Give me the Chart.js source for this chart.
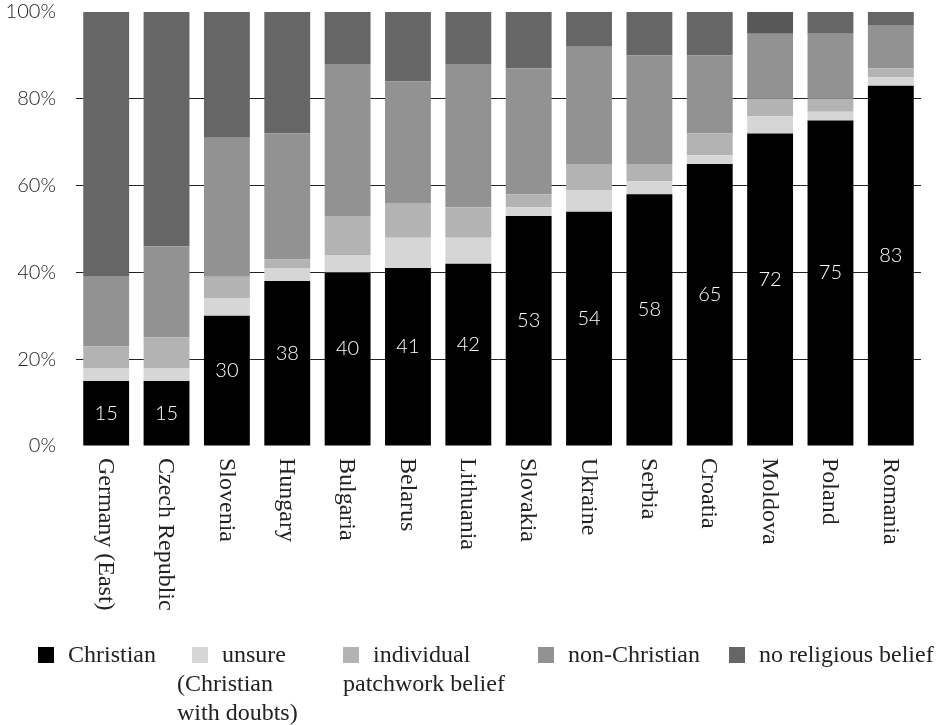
<!DOCTYPE html>
<html>
<head>
<meta charset="utf-8">
<script src="https://cdn.jsdelivr.net/npm/chart.js@4.4.1/dist/chart.umd.min.js"></script>
<style>
  body { margin: 0; background: #fff; }
  #wrap { position: relative; width: 943px; height: 725px; }
  #chart { position: absolute; left: 0; top: 0; }
  .leg {
    position: absolute; display: inline-block; text-align: left;
    font-family: "Liberation Serif", serif; font-size: 24px; line-height: 29px;
    color: #222; white-space: nowrap;
  }
  .leg .box { display: inline-block; width: 16px; height: 16px; margin-right: 14px; vertical-align: -1px; }
</style>
</head>
<body>
<div id="wrap">
  <canvas id="chart" width="943" height="725"></canvas>
</div>
<script>
// Religious self-identification by country, share of respondents (%)
var countries = ['Germany (East)', 'Czech Republic', 'Slovenia', 'Hungary', 'Bulgaria', 'Belarus', 'Lithuania',
                 'Slovakia', 'Ukraine', 'Serbia', 'Croatia', 'Moldova', 'Poland', 'Romania'];
var christian    = [15, 15, 30, 38, 40, 41, 42, 53, 54, 58, 65, 72, 75, 83];
var unsure       = [3, 3, 4, 3, 4, 7, 6, 2, 5, 3, 2, 4, 2, 2];
var patchwork    = [5, 7, 5, 2, 9, 8, 7, 3, 6, 4, 5, 4, 3, 2];
var nonChristian = [16, 21, 32, 29, 35, 28, 33, 29, 27, 25, 18, 15, 15, 10];
var noBelief     = [61, 54, 29, 28, 12, 16, 12, 13, 8, 10, 10, 5, 5, 3];
var yTicks = [0, 20, 40, 60, 80, 100];

var seriesNames = ['Christian', 'unsure (Christian with doubts)', 'individual patchwork belief', 'non-Christian', 'no religious belief'];
// how the legend entries wrap in the original
var legendLines = [['Christian'], ['unsure', '(Christian', 'with doubts)'], ['individual', 'patchwork belief'], ['non-Christian'], ['no religious belief']];
var legendLeft = [38, 177, 343, 538, 729];
var legendIndent = [0, 15, 0, 0, 0];
var colors = ['#000000', '#d6d6d6', '#b3b3b3', '#929292', '#666666'];

var serif = '"Liberation Serif", serif';
var sans = 'Lato, sans-serif';

// numbers inside the black bars
var barLabels = {
  id: 'barLabels',
  afterDatasetsDraw: function(chart) {
    var ctx = chart.ctx;
    var meta = chart.getDatasetMeta(0);
    ctx.save();
    ctx.fillStyle = '#fff';
    ctx.font = '300 20px ' + sans;
    ctx.textAlign = 'center';
    ctx.textBaseline = 'middle';
    meta.data.forEach(function(bar, i) {
      var h = bar.base - bar.y;
      var y = (bar.y + bar.base) / 2 - (h > 100 ? 10 : 0);
      ctx.fillText(String(christian[i]), bar.x, y);
    });
    ctx.restore();
  }
};

// category labels, rotated to read top-down
var xLabels = {
  id: 'xLabels',
  afterDraw: function(chart) {
    var ctx = chart.ctx;
    var xs = chart.scales.x;
    ctx.save();
    ctx.fillStyle = '#222';
    ctx.font = '24px ' + serif;
    ctx.textAlign = 'left';
    ctx.textBaseline = 'middle';
    countries.forEach(function(c, i) {
      ctx.save();
      ctx.translate(xs.getPixelForValue(i) - 1, chart.chartArea.bottom + 12);
      ctx.rotate(Math.PI / 2);
      ctx.fillText(c, 0, 0);
      ctx.restore();
    });
    ctx.restore();
  }
};

var values = [christian, unsure, patchwork, nonChristian, noBelief];
var datasets = values.map(function(v, k) {
  return {
    label: seriesNames[k],
    data: v,
    backgroundColor: k === 4 ? countries.map(function(c) { return c === 'Moldova' ? '#585858' : colors[4]; }) : colors[k],
    borderWidth: 0,
    barPercentage: 0.76,
    categoryPercentage: 1
  };
});

var ctx = document.getElementById('chart').getContext('2d');
new Chart(ctx, {
  type: 'bar',
  data: { labels: countries, datasets: datasets },
  options: {
    responsive: false,
    animation: false,
    layout: { padding: { top: 12, right: 22, bottom: 279, left: 0 } },
    scales: {
      x: {
        display: false,
        stacked: true
      },
      y: {
        stacked: true,
        min: 0,
        max: 100,
        afterFit: function(s) { s.width = 76; s.paddingTop = 0; s.paddingBottom = 0; },
        afterBuildTicks: function(s) { s.ticks = yTicks.map(function(v) { return { value: v }; }); },
        border: { display: false },
        grid: {
          drawTicks: false,
          color: function(c) { return (c.tick.value === 0 || c.tick.value === 100) ? 'rgba(0,0,0,0)' : '#222'; }
        },
        ticks: {
          padding: 20,
          color: '#222',
          font: { family: sans, size: 20, weight: 300 },
          callback: function(v) { return v + '%'; }
        }
      }
    },
    plugins: {
      legend: { display: false },
      tooltip: { enabled: false }
    }
  },
  plugins: [barLabels, xLabels]
});

// legend under the chart
var wrap = document.getElementById('wrap');
legendLines.forEach(function(lines, k) {
  var d = document.createElement('div');
  d.className = 'leg';
  d.style.left = legendLeft[k] + 'px';
  d.style.top = '640px';
  d.title = seriesNames[k];
  var html = '<span class="box" style="background:' + colors[k] + ';margin-left:' + legendIndent[k] + 'px"></span>' + lines[0];
  for (var j = 1; j < lines.length; j++) html += '<br>' + lines[j];
  d.innerHTML = html;
  wrap.appendChild(d);
});
</script>
</body>
</html>
